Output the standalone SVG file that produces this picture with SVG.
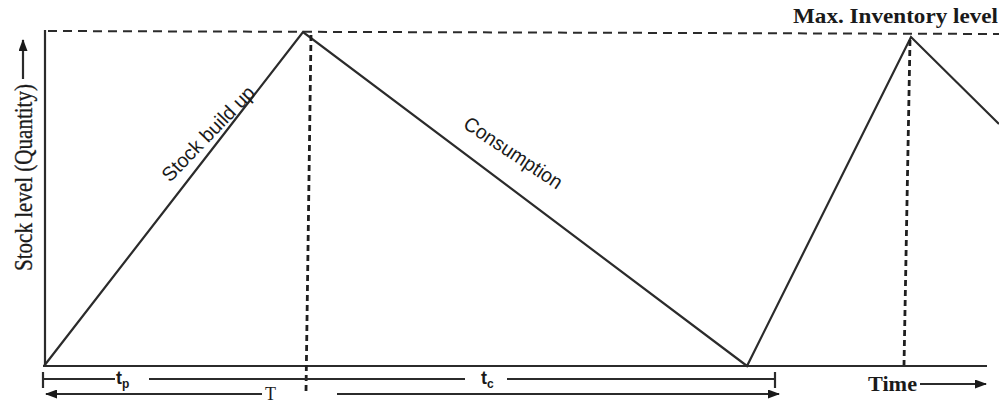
<svg xmlns="http://www.w3.org/2000/svg" width="999" height="405" viewBox="0 0 999 405">
<style>
.ln{stroke:#2b2b2b;stroke-width:2.2;fill:none}
.dash{stroke:#2b2b2b;stroke-width:2;fill:none;stroke-dasharray:9 6}
.vdash{stroke:#1f1f1f;stroke-width:2.8;fill:none;stroke-dasharray:6 4}
.serif{font-family:"Liberation Serif","Times New Roman",serif;fill:#1a1a1a}
.sans{font-family:"Liberation Sans",Arial,sans-serif;fill:#1a1a1a}
</style>
<defs>
<marker id="ah" markerWidth="12" markerHeight="9" refX="11" refY="4.5" orient="auto" markerUnits="userSpaceOnUse">
<path d="M0,0 L12,4.5 L0,9 Z" fill="#1a1a1a"/>
</marker>
</defs>
<rect width="999" height="405" fill="#ffffff"/>
<g id="axes">
<line class="ln" x1="45" y1="30" x2="45" y2="366"/>
<line class="ln" x1="43" y1="366" x2="987" y2="366"/>
</g>
<g id="max-level-line">
<line class="dash" x1="48" y1="31" x2="999" y2="34"/>
</g>
<g id="connectors">
<polyline class="ln" points="44,366 303,32 747,366 911,37 999,124"/>
<line class="vdash" x1="311" y1="35" x2="306" y2="392"/>
<line class="vdash" x1="910" y1="40" x2="904" y2="365"/>
</g>
<g id="y-label">
<text class="serif" font-size="25" stroke="#1a1a1a" stroke-width="0.3" transform="translate(32,271) rotate(-90)" textLength="187" lengthAdjust="spacingAndGlyphs">Stock level (Quantity)</text>
<line class="ln" x1="23" y1="79" x2="23" y2="40" marker-end="url(#ah)"/>
</g>
<g id="stock-build-up">
<text class="sans" font-size="20" transform="translate(170,183) rotate(-46)" textLength="124" lengthAdjust="spacingAndGlyphs">Stock build up</text>
</g>
<g id="consumption">
<text class="sans" font-size="20" transform="translate(462,127) rotate(33.5)" textLength="114" lengthAdjust="spacingAndGlyphs">Consumption</text>
</g>
<g id="max-inventory">
<text class="serif" font-size="21" font-weight="bold" x="793" y="23" textLength="205" lengthAdjust="spacingAndGlyphs">Max. Inventory level</text>
</g>
<g id="time-label">
<text class="serif" font-size="20" font-weight="bold" x="868" y="391" textLength="49" lengthAdjust="spacingAndGlyphs">Time</text>
<line class="ln" x1="920" y1="384" x2="986" y2="384" marker-end="url(#ah)"/>
</g>
<g id="tp-tc">
<line class="ln" x1="43" y1="372" x2="43" y2="388"/>
<line class="ln" x1="43" y1="379" x2="115" y2="379"/>
<text class="sans" font-size="18" font-weight="bold" x="116" y="384">t<tspan font-size="12" dy="4">p</tspan></text>
<line class="ln" x1="149" y1="379" x2="465" y2="379"/>
<text class="sans" font-size="18" font-weight="bold" x="481" y="384">t<tspan font-size="12" dy="4">c</tspan></text>
<line class="ln" x1="507" y1="379" x2="775" y2="379"/>
<line class="ln" x1="775" y1="372" x2="775" y2="388"/>
</g>
<g id="T-span">
<line class="ln" x1="262" y1="394" x2="46" y2="394" marker-end="url(#ah)"/>
<text class="serif" font-size="18" x="265" y="400">T</text>
<line class="ln" x1="337" y1="394" x2="779" y2="394" marker-end="url(#ah)"/>
</g>
</svg>
